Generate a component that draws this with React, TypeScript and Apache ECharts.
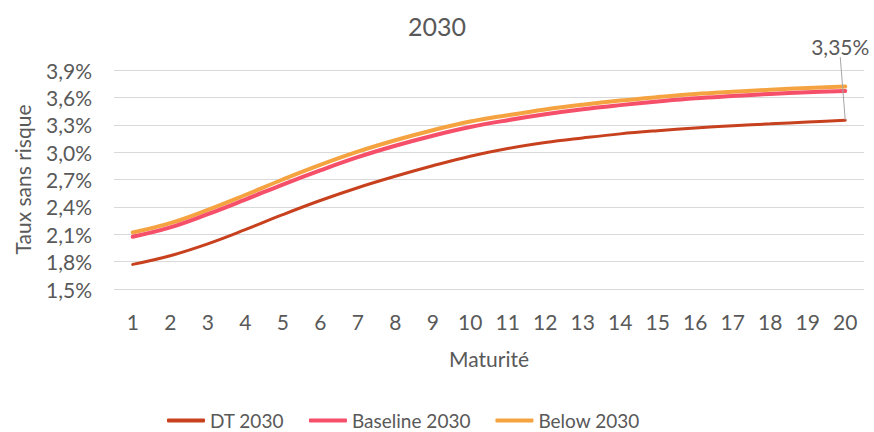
import React, { useEffect, useRef } from "react";
import * as echarts from "echarts";

const maturities = ["1","2","3","4","5","6","7","8","9","10","11","12","13","14","15","16","17","18","19","20"];
const dt2030 = [1.77, 1.865, 1.995, 2.15, 2.315, 2.47, 2.61, 2.735, 2.85, 2.955, 3.04, 3.105, 3.155, 3.2, 3.235, 3.265, 3.29, 3.31, 3.33, 3.35];
const baseline2030 = [2.073, 2.175, 2.32, 2.48, 2.645, 2.8, 2.945, 3.07, 3.18, 3.275, 3.35, 3.415, 3.47, 3.515, 3.555, 3.59, 3.615, 3.638, 3.656, 3.67];
const below2030 = [2.12, 2.222, 2.367, 2.53, 2.7, 2.86, 3.005, 3.13, 3.24, 3.335, 3.405, 3.468, 3.52, 3.565, 3.603, 3.637, 3.662, 3.684, 3.703, 3.718];
const yTicks = { min: 1.5, max: 3.9, interval: 0.3 };

const FONT = "Lato";
const GREY = "#595959";

export default function App() {
  const ref = useRef<HTMLDivElement>(null);
  useEffect(() => {
    if (!ref.current) return;
    const chart = echarts.init(ref.current, undefined, { renderer: "svg" });
    const fmt = (v: number) => v.toFixed(2).replace(".", ",") + "%";
    const last = dt2030.length - 1;
    chart.setOption({
      animation: false,
      textStyle: { fontFamily: FONT },
      title: {
        text: "2030",
        left: "center",
        top: 8,
        textStyle: { fontFamily: FONT, fontSize: 25, fontWeight: "normal", color: GREY },
      },
      grid: { left: 114, right: 10, top: 70, bottom: 143, containLabel: false },
      legend: {
        left: 162,
        top: 406,
        itemWidth: 38,
        itemHeight: 4,
        itemGap: 25,
        icon: "roundRect",
        textStyle: { fontFamily: FONT, fontSize: 19, color: GREY },
        data: ["DT 2030", "Baseline 2030", "Below 2030"],
      },
      xAxis: {
        type: "category",
        data: maturities,
        boundaryGap: true,
        axisLine: { show: false },
        axisTick: { show: false },
        axisLabel: { fontFamily: FONT, fontSize: 21, color: GREY, margin: 22 },
        name: "Maturité",
        nameLocation: "middle",
        nameGap: 59,
        nameTextStyle: { fontFamily: FONT, fontSize: 21, color: GREY },
      },
      yAxis: {
        type: "value",
        min: yTicks.min,
        max: yTicks.max,
        interval: yTicks.interval,
        axisLine: { show: false },
        axisTick: { show: false },
        splitLine: { lineStyle: { color: "#d9d9d9", width: 1 } },
        axisLabel: {
          fontFamily: FONT,
          fontSize: 21,
          color: GREY,
          margin: 22,
          formatter: (v: number) => v.toFixed(1).replace(".", ",") + "%",
        },
        name: "Taux sans risque",
        nameLocation: "middle",
        nameGap: 81,
        nameTextStyle: { fontFamily: FONT, fontSize: 21, color: GREY },
      },
      series: [
        {
          name: "DT 2030",
          type: "line",
          data: dt2030.map((v, i) =>
            i === last
              ? {
                  value: v,
                  label: {
                    show: true,
                    position: "top",
                    formatter: (p: any) => fmt(p.value),
                    fontFamily: FONT,
                    fontSize: 21,
                    color: GREY,
                  },
                }
              : v
          ),
          smooth: 0.4,
          showSymbol: true,
          symbol: "circle",
          symbolSize: 0.1,
          color: "#C8411F",
          lineStyle: { width: 3, color: "#C8411F", cap: "round" },
          labelLayout: (p: any) => (p.dataIndex === last ? { dx: -5, dy: -58 } : {}),
          labelLine: { show: true, lineStyle: { color: "#a6a6a6", width: 1 } },
        },
        {
          name: "Baseline 2030",
          type: "line",
          data: baseline2030,
          smooth: 0.4,
          showSymbol: false,
          symbol: "none",
          color: "#F64F6A",
          lineStyle: { width: 4, color: "#F64F6A", cap: "round" },
        },
        {
          name: "Below 2030",
          type: "line",
          data: below2030,
          smooth: 0.4,
          showSymbol: false,
          symbol: "none",
          color: "#F4A340",
          lineStyle: { width: 4, color: "#F4A340", cap: "round" },
          z: 1,
        },
      ],
    });
    return () => chart.dispose();
  }, []);
  return <div ref={ref} style={{ width: 874, height: 432, position: "absolute", left: 0, top: 0 }} />;
}
